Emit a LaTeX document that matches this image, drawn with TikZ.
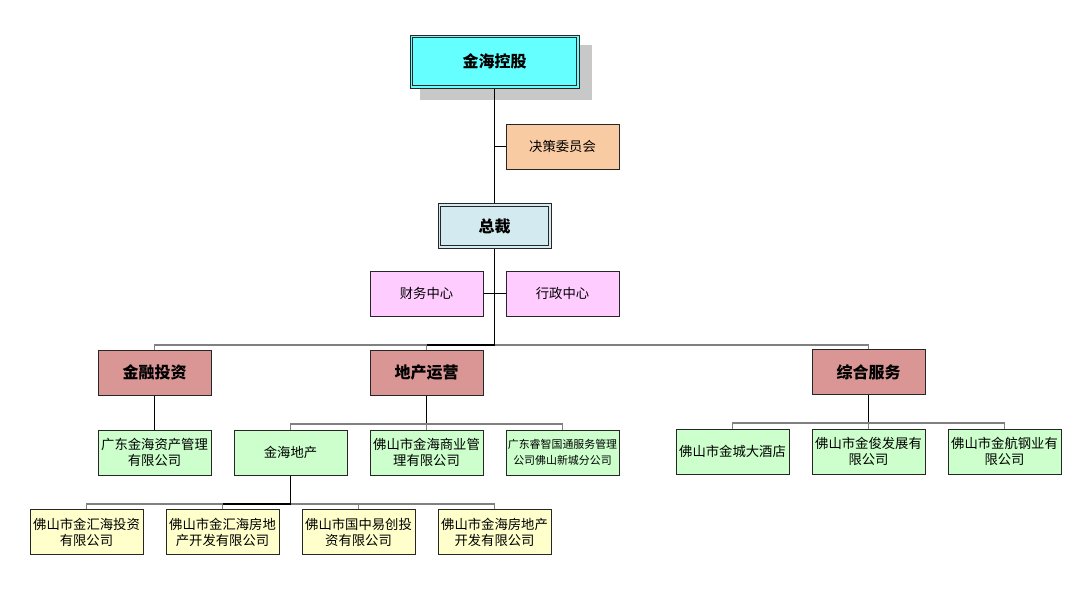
\documentclass[tikz,border=0pt]{standalone}
\usepackage{fontspec}
\newfontfamily\cjk{Noto Sans CJK SC}
\definecolor{topc}{HTML}{66FFFF}
\definecolor{peach}{HTML}{F9CBA3}
\definecolor{ceoc}{HTML}{D3EBF0}
\definecolor{pinkc}{HTML}{FFCCFF}
\definecolor{rosec}{HTML}{D99694}
\definecolor{greenc}{HTML}{CCFFCC}
\definecolor{yellowc}{HTML}{FFFFCC}
\definecolor{shadowc}{HTML}{C8C8C8}
\definecolor{linec}{HTML}{808080}
\tikzset{
  box/.style={draw=black!85, line width=0.75pt, minimum width=84.75pt, minimum height=33.75pt, inner sep=1pt, align=center, font=\cjk\fontsize{10}{12}\selectfont},
  dbox/.style={box, fill=#1, font=\cjk\bfseries\fontsize{12}{14}\selectfont},
  hbox/.style={box, font=\cjk\bfseries\fontsize{12}{14}\selectfont},
  inner/.style={draw=black!85, line width=0.75pt},
  trunk/.style={draw=black, line width=1.1pt},
  branch/.style={draw=linec, line width=0.8pt}
}
\begin{document}
\begin{tikzpicture}[x=0.75pt,y=-0.75pt]
\useasboundingbox (0,0) rectangle (1091,612);
% shadow
\fill[shadowc] (420,45) rectangle (592,100);
% nodes
\node[dbox=topc, minimum width=126.75pt, minimum height=39.75pt] (top) at (494.5,61.5) {金海控股};
\draw[inner] ([shift={(2.3pt,-2.3pt)}]top.north west) rectangle ([shift={(-2.3pt,2.3pt)}]top.south east);
\node[box, fill=peach] (jc) at (562.5,146.5) {决策委员会};
\node[dbox=ceoc] (ceo) at (494.5,226) {总裁};
\draw[inner] ([shift={(2.3pt,-2.3pt)}]ceo.north west) rectangle ([shift={(-2.3pt,2.3pt)}]ceo.south east);
\node[box, fill=pinkc] (cw) at (426.5,293.5) {财务中心};
\node[box, fill=pinkc] (xz) at (562.5,293.5) {行政中心};
\node[hbox, fill=rosec] (jr) at (154.5,372.5) {金融投资};
\node[hbox, fill=rosec] (dc) at (426.5,372.5) {地产运营};
\node[hbox, fill=rosec] (zh) at (868.5,372) {综合服务};
\node[box, fill=greenc] (zc) at (154.5,452.5) {广东金海资产管理\\有限公司};
\node[box, fill=greenc] (jd) at (290.5,452.5) {金海地产};
\node[box, fill=greenc] (sy) at (426.5,452.5) {佛山市金海商业管\\理有限公司};
\node[box, fill=greenc, font=\cjk\fontsize{8.2}{12}\selectfont] (rz) at (562.5,452.5) {广东睿智国通服务管理\\公司佛山新城分公司};
\node[box, fill=greenc] (jcd) at (732.5,451.5) {佛山市金城大酒店};
\node[box, fill=greenc] (jj) at (868.5,451.5) {佛山市金俊发展有\\限公司};
\node[box, fill=greenc] (jh) at (1004.5,451.5) {佛山市金航钢业有\\限公司};
\node[box, fill=yellowc] (y1) at (86.5,532) {佛山市金汇海投资\\有限公司};
\node[box, fill=yellowc] (y2) at (222.5,532) {佛山市金汇海房地\\产开发有限公司};
\node[box, fill=yellowc] (y3) at (358.5,532) {佛山市国中易创投\\资有限公司};
\node[box, fill=yellowc] (y4) at (494.5,532) {佛山市金海房地产\\开发有限公司};
% bus coordinates
\coordinate (b1) at (0,345);
\coordinate (b2) at (0,424);
\coordinate (b3) at (0,423);
\coordinate (b4) at (0,504);
% connectors
\draw[trunk] (top.south) -- (ceo.north);
\draw[trunk] (top.south |- jc.west) -- (jc.west);
\draw[trunk] (ceo.south) -- (ceo.south |- b1);
\draw[trunk] (ceo.south |- cw.east) -- (cw.east);
\draw[trunk] (ceo.south |- xz.west) -- (xz.west);
\draw[branch] (jr.north) -- (jr.north |- b1) -- (zh.north |- b1) -- (zh.north);
\draw[branch] (dc.north |- b1) -- (dc.north);
\draw[trunk] (ceo.south |- b1) -- (dc.north |- b1);
\draw[trunk] (jr.south) -- (zc.north);
\draw[trunk] (dc.south) -- (dc.south |- b2);
\draw[branch] (jd.north) -- (jd.north |- b2) -- (rz.north |- b2) -- (rz.north);
\draw[branch] (sy.north |- b2) -- (sy.north);
\draw[trunk] (zh.south) -- (zh.south |- b3);
\draw[branch] (jcd.north) -- (jcd.north |- b3) -- (jh.north |- b3) -- (jh.north);
\draw[branch] (jj.north |- b3) -- (jj.north);
\draw[trunk] (jd.south) -- (jd.south |- b4);
\draw[branch] (y1.north) -- (y1.north |- b4) -- (y4.north |- b4) -- (y4.north);
\draw[branch] (y2.north |- b4) -- (y2.north);
\draw[branch] (y3.north |- b4) -- (y3.north);
\draw[trunk] (jd.south |- b4) -- (y2.north |- b4);
\end{tikzpicture}
\end{document}
